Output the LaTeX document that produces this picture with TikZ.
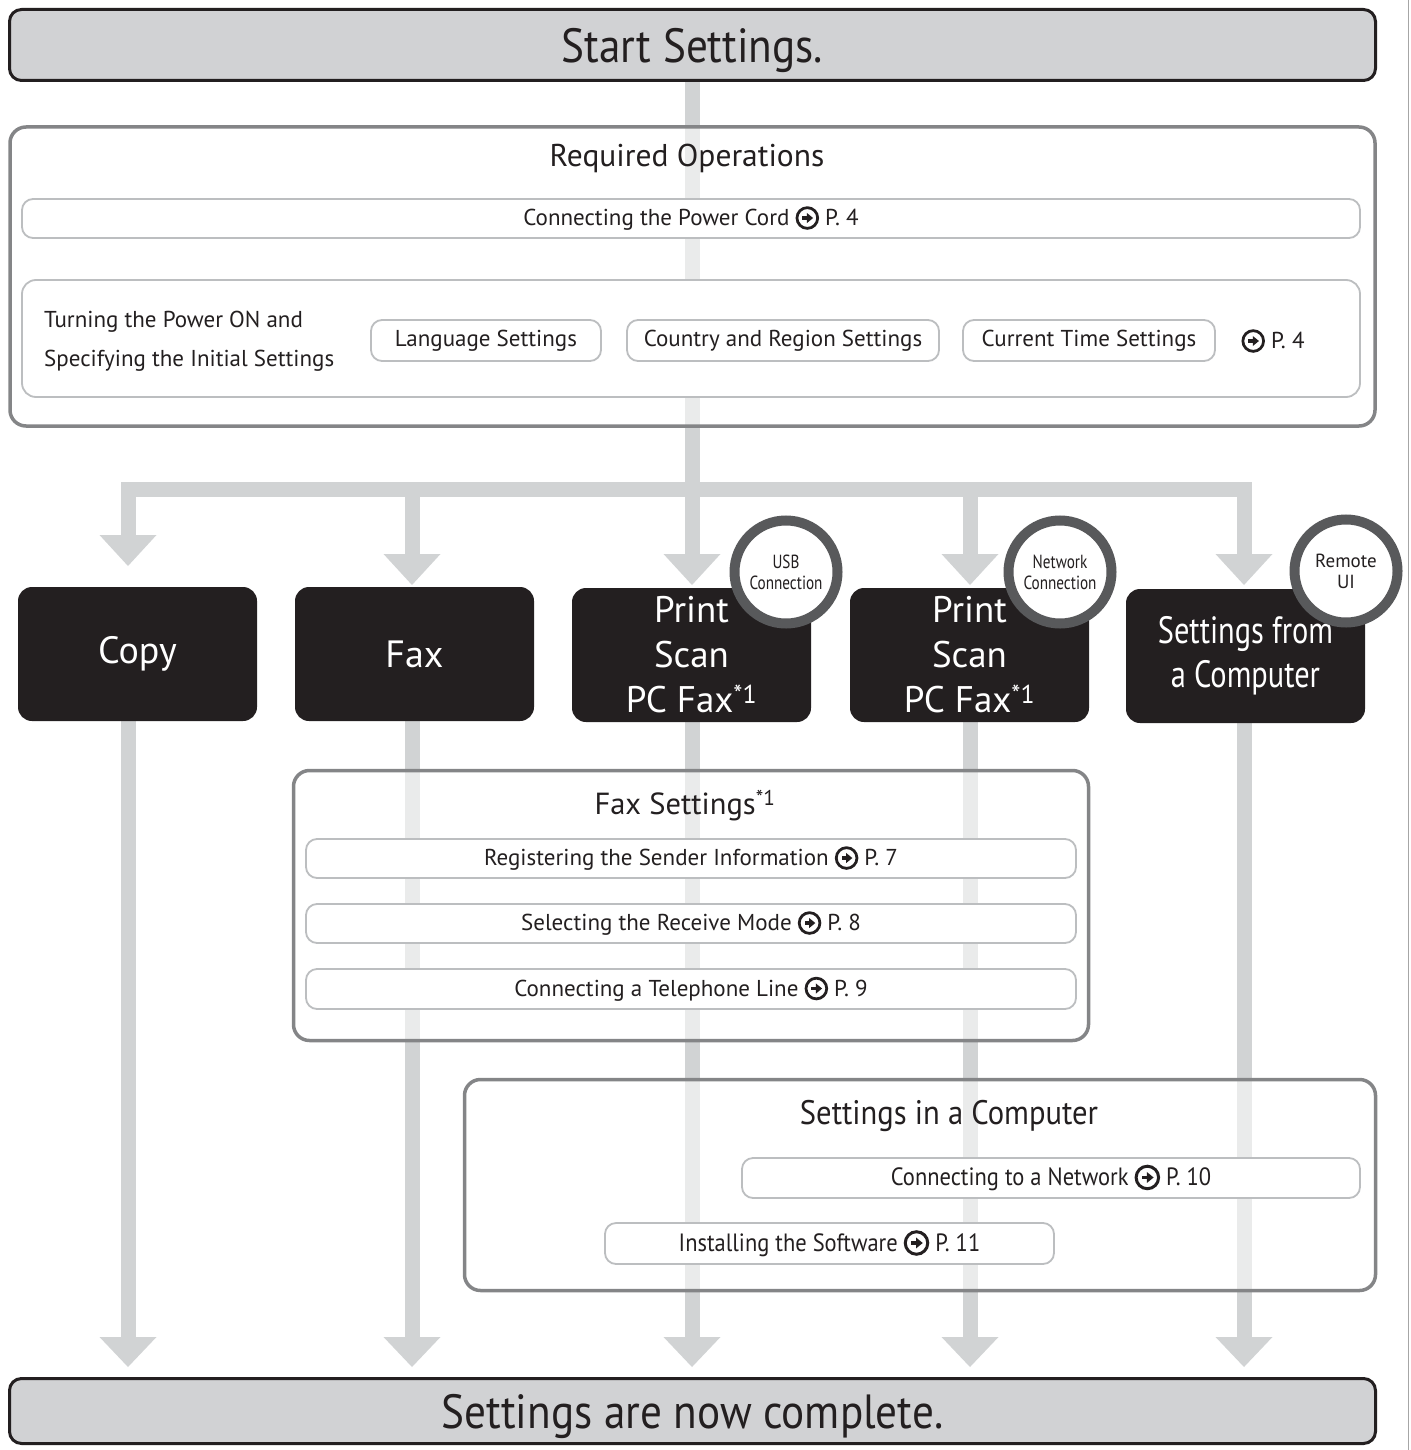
\documentclass[tikz,border=0pt]{standalone}
\usepackage{fontspec}
\setmainfont{PT Sans}
\newfontfamily\condfont{PT Sans}[FakeStretch=0.8]
\newfontfamily\bigcondfont{PT Sans}[FakeStretch=0.9]
\usetikzlibrary{backgrounds}
\definecolor{arrowgray}{HTML}{D1D3D4}
\definecolor{boxgray}{HTML}{D1D2D4}
\definecolor{ink}{HTML}{231F20}
\definecolor{framegray}{HTML}{848587}
\definecolor{pillline}{HTML}{BCBEC0}
\definecolor{ringgray}{HTML}{58595B}
\newcommand\fsz[2]{\fontsize{#1pt}{#2pt}\selectfont}
\newcommand\goicon{\tikz[baseline=0pt, sharp corners]{%
  \draw[sharp corners, line width=0.12em, draw=ink, fill=none] (0.52em,0.34em) circle[radius=0.45em];
  \fill[sharp corners, ink] (0.30em,0.27em) rectangle (0.54em,0.41em);
  \fill[sharp corners, ink] (0.50em,0.12em) -- (0.77em,0.34em) -- (0.50em,0.56em) -- cycle;}}
\tikzset{
  endbox/.style={draw=ink, line width=3pt, fill=boxgray, rounded corners=12pt, inner sep=0pt, text=ink, text depth=0pt, font=\bigcondfont\fsz{48}{56}},
  groupbox/.style={draw=framegray, line width=3.5pt, fill=white, fill opacity=0.55, draw opacity=1, rounded corners=16pt, inner sep=0pt},
  pill/.style={draw=pillline, line width=1.8pt, fill=white, rounded corners=11pt, inner sep=0pt, text=ink, font=\fsz{23}{27}},
  darkbox/.style={fill=ink, text=white, rounded corners=14pt, inner sep=0pt, minimum width=239pt, minimum height=134pt, align=center},
  badge/.style={circle, draw=ringgray, line width=10pt, fill=white, inner sep=0pt, minimum size=103pt, align=center, text=ink},
  flow/.style={draw=arrowgray, line width=15pt},
  headtri/.style={fill=arrowgray},
  title/.style={text=ink, font=\fsz{30.5}{36}, inner sep=0pt},
  plain/.style={text=ink, font=\fsz{23}{27}, inner sep=0pt}
}
\begin{document}
\begin{tikzpicture}[x=1pt,y=-1pt]
\useasboundingbox (0,0) rectangle (1410,1450);
\draw[gray!70, line width=1pt] (1408,0) -- (1408,1450);
% ---- coordinates for the flow bars
\coordinate (tc) at (128,489.5);
\coordinate (tf) at (412,489.5);
\coordinate (tp) at (692,489.5);
\coordinate (tn) at (970,489.5);
\coordinate (ts) at (1244,489.5);
\coordinate (hc) at (128,535);
\coordinate (hf) at (412,554);
\coordinate (hp) at (692,554);
\coordinate (hn) at (970,554);
\coordinate (hs) at (1244,554);
\coordinate (bc) at (128,1337);
\coordinate (bf) at (412,1337);
\coordinate (bp) at (692,1337);
\coordinate (bn) at (970,1337);
\coordinate (bs) at (1244,1337);
% ---- end boxes
\node[endbox, minimum width=1366pt, minimum height=71pt] (start) at (692.5,45) {Start Settings.};
\node[endbox, minimum width=1366pt, minimum height=65pt] (done) at (692.5,1411) {Settings are now complete.};
% ---- required operations
\node[groupbox, minimum width=1365pt, minimum height=299pt] (req) at (692.5,276.5) {};
\node[title, font=\fsz{31.5}{37}] (reqt) at (687,158) {Required Operations};
\node[pill, minimum width=1338pt, minimum height=39pt] (power) at (691,218.5) {Connecting the Power Cord \goicon\ P. 4};
\node[pill, minimum width=1338pt, minimum height=117pt, rounded corners=14pt] (init) at (691,338.5) {};
\node[plain, anchor=base west] (init1) at (44,327) {Turning the Power ON and};
\node[plain, anchor=base west] (init2) at (44,366) {Specifying the Initial Settings};
\node[pill, minimum width=230pt, minimum height=41pt] (lang) at (486,340.5) {Language Settings};
\node[pill, minimum width=312pt, minimum height=41pt] (country) at (783,340.5) {Country and Region Settings};
\node[pill, minimum width=252pt, minimum height=41pt] (time) at (1089,340.5) {Current Time Settings};
\node[plain] (initref) at (1273,341) {\goicon\ P. 4};
% ---- job boxes
\node[darkbox, font=\fsz{38}{45}] (copy) at (137.5,654) {Copy};
\node[darkbox, font=\fsz{38}{45}] (fax) at (414.5,654) {Fax};
\node[darkbox, font=\fsz{37}{45}] (usbjob) at (691.5,655) {Print\\Scan\\PC Fax\textsuperscript{*1}};
\node[darkbox, font=\fsz{37}{45}] (netjob) at (969.5,655) {Print\\Scan\\PC Fax\textsuperscript{*1}};
\node[darkbox, font=\condfont\fsz{38}{44}] (pcjob) at (1245.5,656) {Settings from\\a Computer};
\node[badge, font=\condfont\fsz{19}{21}] (usb) at (786,572) {USB\\Connection};
\node[badge, font=\condfont\fsz{19}{21}] (net) at (1060,572) {Network\\Connection};
\node[badge, font=\fsz{19}{21}] (rui) at (1346,571) {Remote\\UI};
% ---- fax settings
\node[groupbox, minimum width=795pt, minimum height=270pt] (faxset) at (691,905.5) {};
\node[title] (faxsett) at (685,806) {Fax Settings\textsuperscript{*1}};
\node[pill, minimum width=770pt, minimum height=39pt] (sender) at (691,858.5) {Registering the Sender Information \goicon\ P. 7};
\node[pill, minimum width=770pt, minimum height=39pt] (rmode) at (691,923.5) {Selecting the Receive Mode \goicon\ P. 8};
\node[pill, minimum width=770pt, minimum height=40pt] (tel) at (691,989) {Connecting a Telephone Line \goicon\ P. 9};
% ---- settings in a computer
\node[groupbox, minimum width=911pt, minimum height=211pt] (pcset) at (920,1185) {};
\node[title, font=\bigcondfont\fsz{34}{40}] (pcsett) at (949,1116) {Settings in a Computer};
\node[pill, minimum width=618pt, minimum height=40pt, font=\bigcondfont\fsz{25}{29}] (netw) at (1051,1178) {Connecting to a Network \goicon\ P. 10};
\node[pill, minimum width=449pt, minimum height=41pt, font=\bigcondfont\fsz{25}{29}] (soft) at (829.5,1243.5) {Installing the Software \goicon\ P. 11};
% ---- flow bars
\begin{scope}[on background layer]
\draw[flow] (start.south -| tp) -- (hp);
\draw[flow, line join=miter] (hc) -- (tc) -- (ts) -- (hs);
\draw[flow] (tf) -- (hf);
\draw[flow] (tn) -- (hn);
\foreach \h/\d in {hc/31,hf/31,hp/31,hn/31,hs/31,bc/30,bf/30,bp/30,bn/30,bs/30}
  \fill[headtri] (\h) ++(-28.5,0) -- ++(57,0) -- ++(-28.5,\d) -- cycle;
\draw[flow] (copy.south -| bc) -- (bc);
\draw[flow] (fax.south -| bf) -- (bf);
\draw[flow] (usbjob.south -| bp) -- (bp);
\draw[flow] (netjob.south -| bn) -- (bn);
\draw[flow] (pcjob.south -| bs) -- (bs);
\end{scope}
\end{tikzpicture}
\end{document}
